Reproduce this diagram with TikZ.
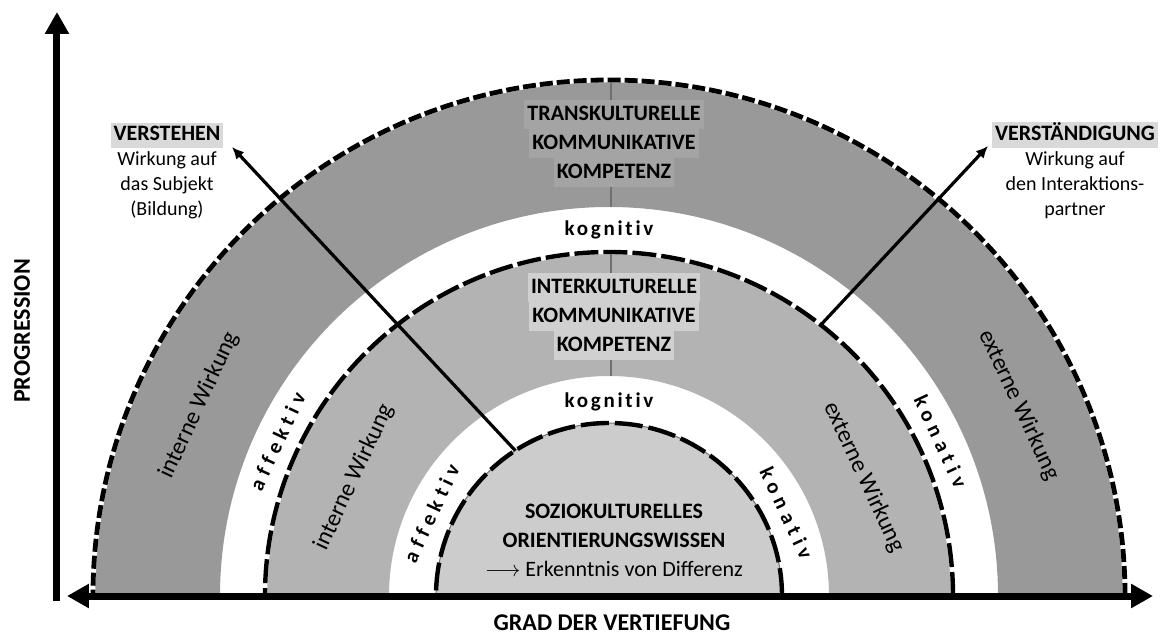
\documentclass[tikz,border=0pt]{standalone}
\usepackage{fontspec}
\setmainfont{Carlito}
\usepackage{tikz}
\usetikzlibrary{arrows.meta, positioning}
\definecolor{outerband}{HTML}{999999}
\definecolor{middleband}{HTML}{B3B3B3}
\definecolor{innerdisc}{HTML}{CCCCCC}
\definecolor{hltrans}{HTML}{A4A4A4}
\definecolor{hlinter}{HTML}{D0D0D0}
\definecolor{hlgoal}{HTML}{D9D9D9}
\definecolor{divider}{HTML}{707070}
\newcommand{\hl}[2]{{\setlength{\fboxsep}{0pt}\colorbox{#1}{\strut\kern1.5pt#2\kern1.5pt}}}
\tikzstyle{axis} = [line width=3.5pt, {Triangle[length=11pt,width=11.5pt]}-{Triangle[length=11pt,width=11.5pt]}]
\tikzstyle{goal arrow} = [line width=1.6pt, -{Latex[length=6pt,width=5.5pt]}]
\tikzstyle{title} = [align=center, inner sep=0pt, font=\bfseries\fontsize{11}{14.5}\selectfont]
\tikzstyle{goal text} = [align=center, inner sep=0pt, font=\fontsize{10}{12.5}\selectfont]
\tikzstyle{band label} = [inner sep=0pt, font=\fontsize{12}{14}\selectfont]
\tikzstyle{spaced label} = [inner sep=0pt, font=\bfseries\fontsize{10.5}{12}\selectfont\addfontfeature{LetterSpace=27,Ligatures=NoCommon}]
\tikzstyle{spaced tight} = [inner sep=0pt, font=\bfseries\fontsize{10.5}{12}\selectfont\addfontfeature{LetterSpace=13,Ligatures=NoCommon}]
\tikzstyle{dash outer} = [line width=2.4pt, dash pattern=on 6.5pt off 2pt]

\begin{document}
\begin{tikzpicture}[x=0.5pt, y=0.5pt]
        \path[fill=white] (-609,-39) rectangle (556,596);
        % bands
        \fill[outerband] (516,0) arc (0:180:516) -- (-389,0) arc (180:0:389) -- cycle;
        \fill[middleband] (344,0) arc (0:180:344) -- (-220,0) arc (180:0:220) -- cycle;
        \fill[innerdisc] (173,0) arc (0:180:173) -- cycle;
        \draw[divider, line width=0.6pt] (2,516) -- (2,389) (2,344) -- (2,220);
        % borders
        \draw[white, line width=2.4pt] (516,0) arc (0:180:516);
        \draw[dash outer] (516,0) arc (0:180:516);
        \draw[white, line width=2.2pt] (344,0) arc (0:180:344);
        \draw[line width=2.2pt, dash pattern=on 12pt off 2.5pt] (344,0) arc (0:180:344);
        \draw[divider, line width=0.5pt] (173,0) arc (0:180:173);
        \draw[line width=2.2pt, dash pattern=on 14pt off 3pt] (173,0) arc (0:180:173);

        \node[title, anchor=north] (trans) at (5,496) {\hl{hltrans}{TRANSKULTURELLE}\\ \hl{hltrans}{KOMMUNIKATIVE}\\ \hl{hltrans}{KOMPETENZ}};
        \node[title, anchor=north] (inter) at (5,323) {\hl{hlinter}{INTERKULTURELLE}\\ \hl{hlinter}{KOMMUNIKATIVE}\\ \hl{hlinter}{KOMPETENZ}};
        \node[title] (sozio) at (5,56) {SOZIOKULTURELLES\\ ORIENTIERUNGSWISSEN\\ {\mdseries$\longrightarrow$ Erkenntnis von Differenz}};

        \node[spaced tight] (kogOuter) at (90:366) {kognitiv};
        \node[spaced tight] (kogInner) at (90:194) {kognitiv};
        \node[band label, rotate=65] (intOuter) at (155:452) {interne Wirkung};
        \node[spaced label, rotate=65] (affOuter) at (155:366) {affektiv};
        \node[band label, rotate=65] (intMiddle) at (155:281) {interne Wirkung};
        \node[spaced label, rotate=65] (affInner) at (155:196) {affektiv};
        \node[band label, rotate=-65] (extOuter) at (25:452) {externe Wirkung};
        \node[spaced label, rotate=-65] (konOuter) at (25:366) {konativ};
        \node[band label, rotate=-65] (extMiddle) at (25:281) {externe Wirkung};
        \node[spaced label, rotate=-65] (konInner) at (25:196) {konativ};

        \node[goal text, anchor=north] (verstehen) at (-442,473) {\hl{hlgoal}{\bfseries\fontsize{11}{14}\selectfont VERSTEHEN}\\ Wirkung auf\\ das Subjekt\\ (Bildung)};
        \node[goal text, anchor=north] (verstaendigung) at (466,474) {\hl{hlgoal}{\bfseries\fontsize{11}{14}\selectfont VERSTÄNDIGUNG}\\ Wirkung auf\\ den Interaktions-\\ partner};

        \coordinate (verstehenStart) at (122.8:173);
        \coordinate (verstehenTip) at (-377,449);
        \coordinate (verstStart) at (52:344);
        \coordinate (verstTip) at (379,450);
        \draw[goal arrow] (verstehenStart) -- (verstehenTip);
        \draw[goal arrow] (verstStart) -- (verstTip);

        % axes
        \coordinate (xLeft) at (-542,0);
        \coordinate (xRight) at (544,0);
        \coordinate (yBottom) at (-552,-5);
        \coordinate (yTop) at (-552,584);
        \draw[axis] (xLeft) -- (xRight);
        \draw[line width=3.5pt, -{Triangle[length=11pt,width=11.5pt]}] (yBottom) -- (yTop);
        \node[font=\bfseries\fontsize{12}{14}\selectfont, rotate=90] (progression) at (-587,265) {PROGRESSION};
        \node[font=\bfseries\fontsize{12}{14}\selectfont] (grad) at (3,-27) {GRAD DER VERTIEFUNG};
      \end{tikzpicture}
\end{document}
